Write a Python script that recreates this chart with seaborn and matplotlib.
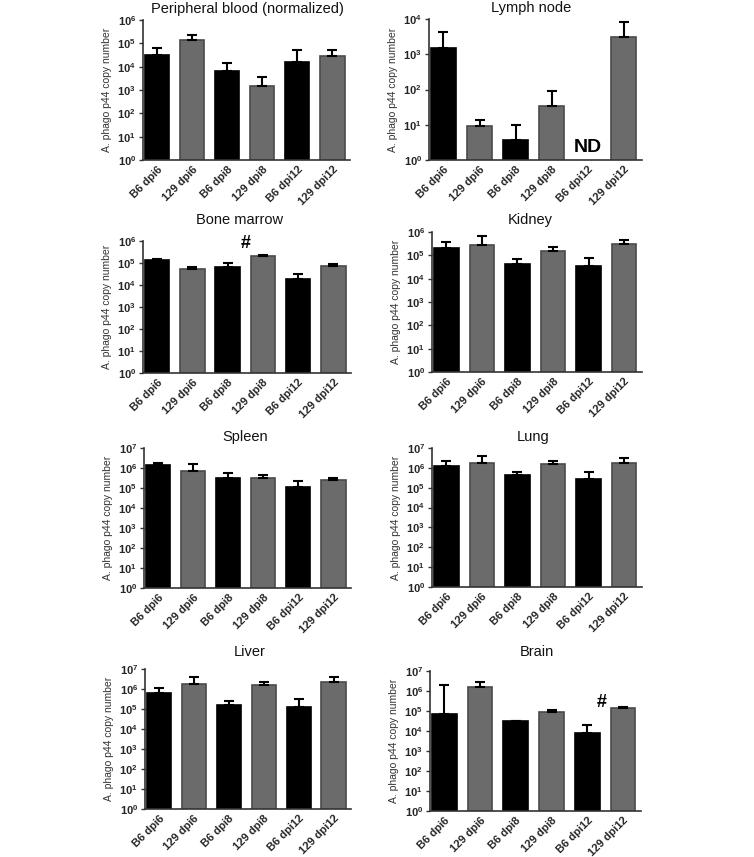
import numpy as np
import pandas as pd
import matplotlib
matplotlib.use("Agg")
import matplotlib.pyplot as plt
import matplotlib.transforms as mtransforms
import seaborn as sns

sns.set_theme(style="white")
plt.rcParams["font.family"] = ["Liberation Sans", "DejaVu Sans"]
plt.rcParams["mathtext.fontset"] = "custom"
plt.rcParams["mathtext.rm"] = "Liberation Sans"
plt.rcParams["mathtext.bf"] = "Liberation Sans:bold"

dpi = 100
W, H = 754, 857

groups = ["B6 dpi6", "129 dpi6", "B6 dpi8", "129 dpi8", "B6 dpi12", "129 dpi12"]
strain = ["B6", "129", "B6", "129", "B6", "129"]

# bar height (mean) and top of the error bar
blood_mean = [3.2e4, 1.4e5, 6.5e3, 1.5e3, 1.6e4, 3.0e4]
blood_upper = [6.5e4, 2.3e5, 1.4e4, 3.7e3, 5.0e4, 5.0e4]
lymph_mean = [1.55e3, 9.3, 3.7, 33, np.nan, 3.0e3]  # B6 dpi12 not detected
lymph_upper = [4.4e3, 13.5, 10, 92, np.nan, 8.0e3]
marrow_mean = [1.3e5, 5.2e4, 6.7e4, 2.0e5, 1.8e4, 7.0e4]
marrow_upper = [1.5e5, 6.7e4, 1.0e5, 2.4e5, 3.2e4, 9.4e4]
kidney_mean = [2.1e5, 2.9e5, 4.3e4, 1.6e5, 3.4e4, 3.0e5]
kidney_upper = [3.7e5, 6.8e5, 6.8e4, 2.3e5, 7.5e4, 4.7e5]
spleen_mean = [1.35e6, 7.4e5, 3.2e5, 3.0e5, 1.07e5, 2.5e5]
spleen_upper = [1.8e6, 1.6e6, 5.8e5, 4.3e5, 2.3e5, 3.2e5]
lung_mean = [1.3e6, 1.8e6, 4.6e5, 1.5e6, 2.6e5, 1.85e6]
lung_upper = [2.1e6, 4.1e6, 6.5e5, 2.2e6, 6.3e5, 3.2e6]
liver_mean = [6.6e5, 1.7e6, 1.5e5, 1.65e6, 1.2e5, 2.2e6]
liver_upper = [1.07e6, 4.0e6, 2.6e5, 2.3e6, 3.0e5, 4.0e6]
brain_mean = [7.0e4, 1.5e6, 3.2e4, 8.5e4, 8.0e3, 1.45e5]
brain_upper = [2.1e6, 2.8e6, 3.3e4, 1.15e5, 2.0e4, 1.65e5]

titles = ["Peripheral blood (normalized)", "Lymph node", "Bone marrow", "Kidney",
          "Spleen", "Lung", "Liver", "Brain"]
means = [blood_mean, lymph_mean, marrow_mean, kidney_mean,
         spleen_mean, lung_mean, liver_mean, brain_mean]
uppers = [blood_upper, lymph_upper, marrow_upper, kidney_upper,
          spleen_upper, lung_upper, liver_upper, brain_upper]
top_decade = [6, 4, 6, 6, 7, 7, 7, 7]

# text marks: (panel, x position, y value, text)
marks = [(1, 4.0, 2.2, "ND"), (2, 2.5, 7.5e5, "#"), (7, 4.4, 2.8e5, "#")]

# axes boxes in pixels (x0, y0, x1, y1) and title centres
boxes = [(143, 20, 350, 160), (429, 19, 642, 160),
         (143, 241, 351, 373), (432, 232, 642, 372),
         (144, 448, 351, 588), (432, 448, 642, 587),
         (145, 669, 351, 809), (430, 671, 641, 811)]
title_pos = [(247, 9), (531, 8), (240, 220), (530, 220),
             (245, 437), (533, 437), (250, 652), (537, 652)]

palette = {"B6": "#000000", "129": "#6b6b6b"}
edge_129 = "#4a4a4a"

fig = plt.figure(figsize=(W / dpi, H / dpi), dpi=dpi)
shift = mtransforms.ScaledTranslation(5 / dpi, 0, fig.dpi_scale_trans)

for i, title in enumerate(titles):
  x0, y0, x1, y1 = boxes[i]
  ax = fig.add_axes([x0 / W, 1 - y1 / H, (x1 - x0) / W, (y1 - y0) / H])
  df = pd.DataFrame({"group": groups, "strain": strain,
                     "copies": means[i], "upper": uppers[i]}).dropna()
  sns.barplot(data=df, x="group", y="copies", hue="strain", order=groups,
              palette=palette, hue_order=["B6", "129"], dodge=False,
              width=0.69, errorbar=None, legend=False, linewidth=1.2, ax=ax)
  for patch in ax.patches:
    fc = patch.get_facecolor()
    patch.set_edgecolor("#000000" if fc[0] < 0.2 else edge_129)
  pos = [groups.index(g) for g in df["group"]]
  ax.errorbar(pos, df["copies"], yerr=[np.zeros(len(df)), df["upper"] - df["copies"]],
              fmt="none", ecolor="black", elinewidth=1.5, capsize=3.6, capthick=1.5,
              zorder=1)
  ax.set_yscale("log")
  ax.set_ylim(1, 10 ** top_decade[i])
  ax.set_xlim(-0.4, 5.5)
  ticks = [10 ** k for k in range(top_decade[i] + 1)]
  ax.set_yticks(ticks)
  ax.set_yticklabels([r"$\mathbf{10^{%d}}$" % k for k in range(top_decade[i] + 1)])
  ax.yaxis.set_minor_locator(matplotlib.ticker.NullLocator())
  ax.set_xticks(range(len(groups)))
  ax.set_xticklabels(groups, rotation=45, ha="right", rotation_mode="anchor",
                     fontweight="bold", fontsize=8)
  for lab in ax.get_xticklabels():
    lab.set_transform(lab.get_transform() + shift)
  ax.tick_params(axis="y", labelsize=8, length=3, width=1, color="#333333", pad=2, left=True)
  ax.tick_params(axis="x", length=0, pad=3)
  ax.set_xlabel("")
  ax.set_ylabel("A. phago p44 copy number", fontsize=7.5, color="#333333", labelpad=4)
  sns.despine(ax=ax)
  for s in ["left", "bottom"]:
    ax.spines[s].set_color("#333333")
    ax.spines[s].set_linewidth(1.2)
  tx, ty = title_pos[i]
  fig.text(tx / W, 1 - ty / H, title, ha="center", va="center", fontsize=10.5, color="#111111")

  for p, mx, my, txt in marks:
    if p == i:
      ax.text(mx, my, txt, ha="center", va="center", fontweight="bold",
              fontsize=14 if txt == "ND" else 13, color="black")

fig.savefig("out.png", dpi=dpi)
